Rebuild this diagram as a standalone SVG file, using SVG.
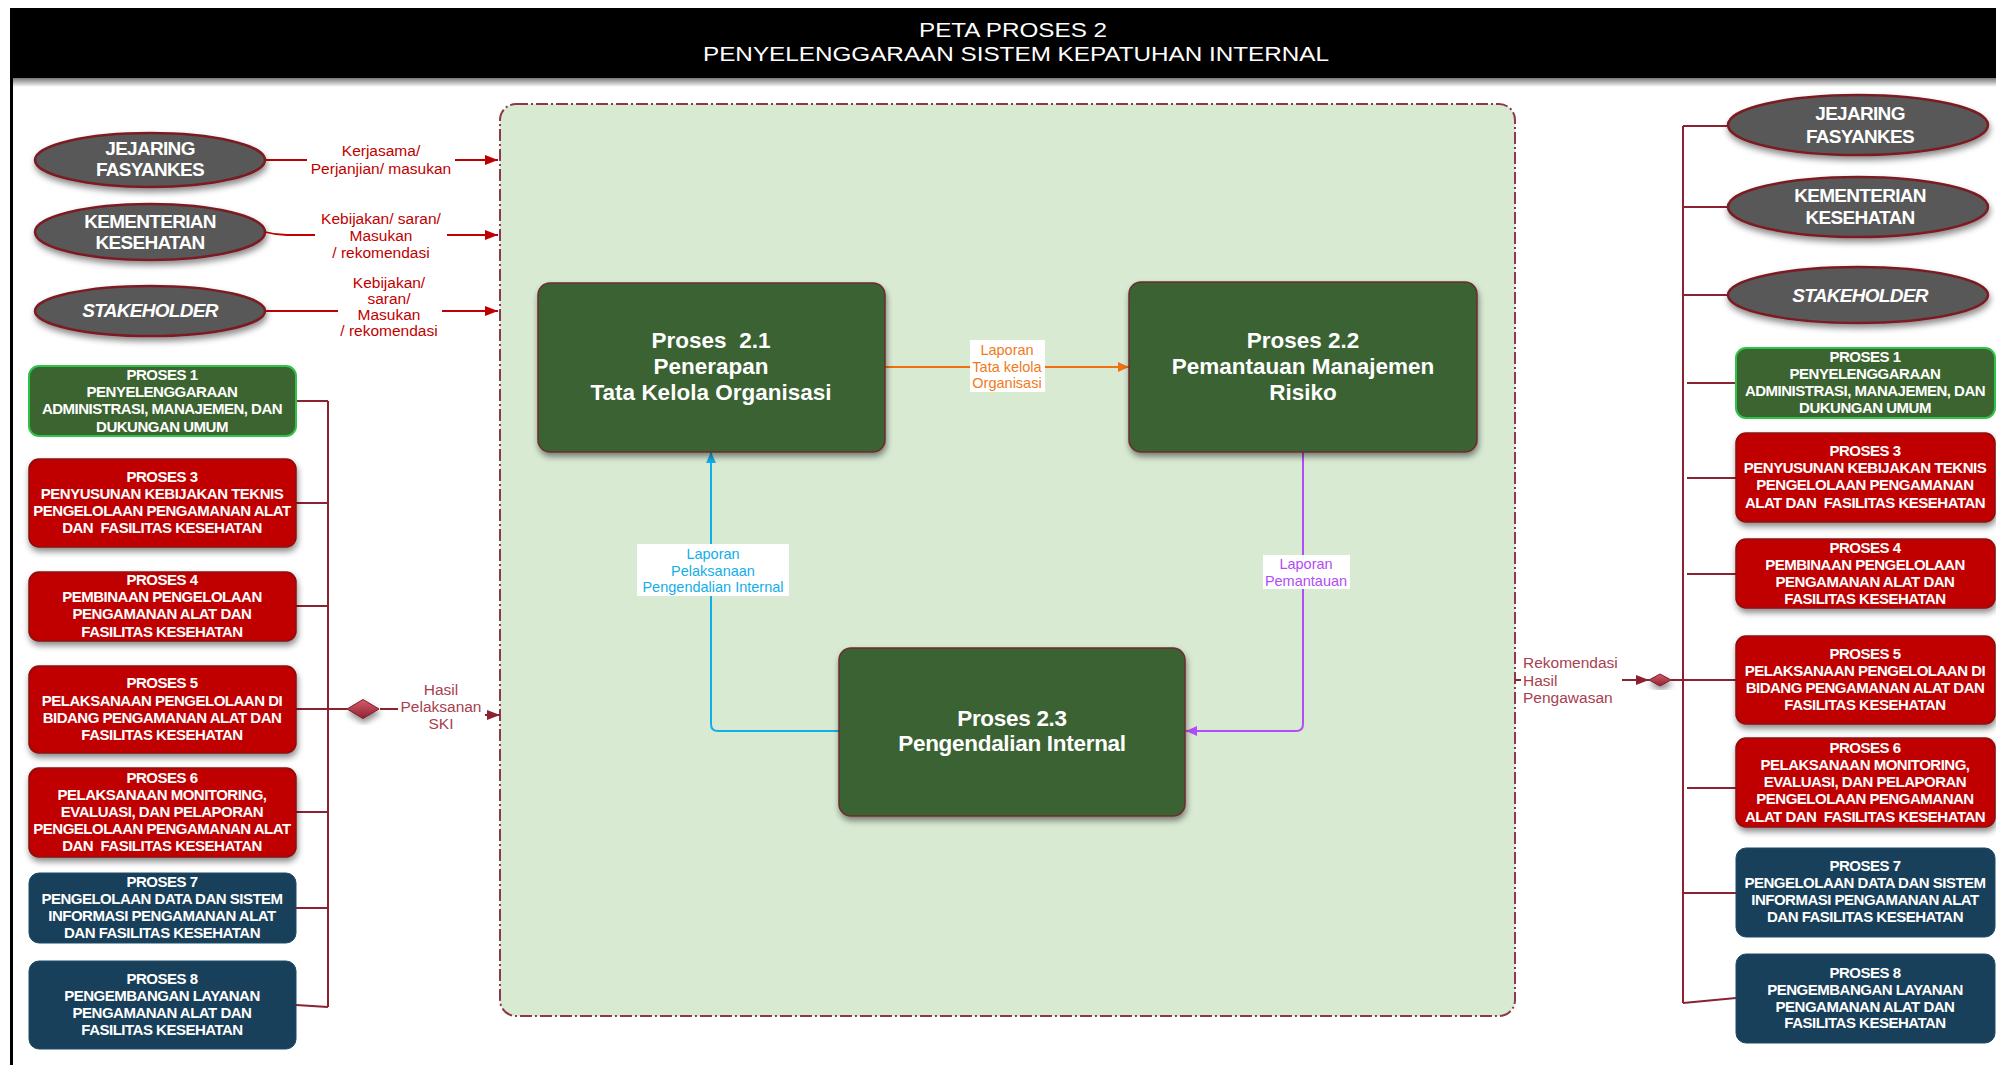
<svg xmlns="http://www.w3.org/2000/svg" width="1996" height="1065" viewBox="0 0 1996 1065">
<defs>
<style>
.title{font-family:"Liberation Sans",Arial,sans-serif;font-size:21px;fill:#fff;text-anchor:middle}
.ell{fill:#595959;stroke:#7b1e24;stroke-width:2.5}
.et{font-family:"Liberation Sans",Arial,sans-serif;font-weight:bold;font-size:19px;fill:#fff;text-anchor:middle;letter-spacing:-0.7px}
.bt{font-family:"Liberation Sans",Arial,sans-serif;font-weight:bold;font-size:15px;fill:#fff;text-anchor:middle;letter-spacing:-0.5px;white-space:pre}
.red{fill:#c00000;stroke:#8b0a0a;stroke-width:1.5}
.blue{fill:#18405b;stroke:#1d4a66;stroke-width:1}
.grn{fill:#3b6430;stroke:#2ec44a;stroke-width:2}
.core{fill:#3b6230;stroke:#6b2d2d;stroke-width:1.5}
.ct{font-family:"Liberation Sans",Arial,sans-serif;font-weight:bold;font-size:22.5px;fill:#fff;text-anchor:middle}
.lab{font-family:"Liberation Sans",Arial,sans-serif;font-size:15.5px;fill:#c00000;text-anchor:middle}
.lab2{font-family:"Liberation Sans",Arial,sans-serif;font-size:15.5px;fill:#a8404f}
.small{font-family:"Liberation Sans",Arial,sans-serif;font-size:14.5px;text-anchor:middle}
.bus{fill:none;stroke:#8b2232;stroke-width:2}
.rl{fill:none;stroke:#c00000;stroke-width:1.8}
</style>
<filter id="sh" x="-10%" y="-10%" width="130%" height="140%">
<feDropShadow dx="1" dy="4" stdDeviation="3" flood-color="#000" flood-opacity="0.45"/>
</filter>
<linearGradient id="hs" x1="0" y1="0" x2="0" y2="1">
<stop offset="0" stop-color="#777"/>
<stop offset="1" stop-color="#fff"/>
</linearGradient>
<linearGradient id="dg" x1="0" y1="0" x2="0" y2="1">
<stop offset="0" stop-color="#d85a6a"/>
<stop offset="1" stop-color="#8e2233"/>
</linearGradient>
<marker id="aR" markerUnits="userSpaceOnUse" markerWidth="14" markerHeight="10" refX="13" refY="5" orient="auto">
<path d="M0,0 L13,5 L0,10 Z" fill="#c00000"/>
</marker>
<marker id="aD" markerUnits="userSpaceOnUse" markerWidth="14" markerHeight="10" refX="13" refY="5" orient="auto">
<path d="M0,0 L13,5 L0,10 Z" fill="#8b2232"/>
</marker>
<marker id="aO" markerUnits="userSpaceOnUse" markerWidth="12" markerHeight="10" refX="11" refY="5" orient="auto">
<path d="M0,0 L11,5 L0,10 Z" fill="#f07010"/>
</marker>
<marker id="aB" markerUnits="userSpaceOnUse" markerWidth="12" markerHeight="10" refX="11" refY="5" orient="auto">
<path d="M0,0 L11,5 L0,10 Z" fill="#12aee8"/>
</marker>
<marker id="aP" markerUnits="userSpaceOnUse" markerWidth="12" markerHeight="10" refX="11" refY="5" orient="auto">
<path d="M0,0 L11,5 L0,10 Z" fill="#b24cf5"/>
</marker>
</defs>
<rect width="1996" height="1065" fill="#fff"/>

<g id="header">
<rect x="10" y="78" width="1986" height="9" fill="url(#hs)"/>
<rect x="10" y="8" width="1986" height="70" fill="#000"/>
<rect x="10" y="78" width="3" height="987" fill="#000"/>
<text class="title" x="1013" y="37" textLength="188" lengthAdjust="spacingAndGlyphs">PETA PROSES 2</text>
<text class="title" x="1016" y="61" textLength="626" lengthAdjust="spacingAndGlyphs">PENYELENGGARAAN SISTEM KEPATUHAN INTERNAL</text>
</g>

<g id="container">
<rect x="500" y="104" width="1015" height="912" rx="16" fill="#d9ead3" stroke="#8b3a48" stroke-width="2" stroke-dasharray="12 3 2 3"/>
</g>

<g id="connectors">
<path class="rl" d="M265,160 H307"/>
<path class="rl" d="M455,160 H498" marker-end="url(#aR)"/>
<path class="rl" d="M265,232 Q276,235 287,235 H315"/>
<path class="rl" d="M447,235 H498" marker-end="url(#aR)"/>
<path class="rl" d="M265,311 H338"/>
<path class="rl" d="M442,311 H498" marker-end="url(#aR)"/>
<path class="bus" d="M328,401 V1007"/>
<path class="bus" d="M296,401 H328 M296,503 H328 M296,606 H328 M296,709 H347 M296,812 H328 M296,908 H328 M296,1005 L328,1007"/>
<path class="bus" d="M380,709 H398"/>
<path class="bus" d="M485,715 H500" marker-end="url(#aD)"/>
<path class="bus" d="M1683,126 V1003"/>
<path class="bus" d="M1683,126 H1730 M1683,207 H1730 M1683,295 H1730 M1687,383 H1736 M1687,478 H1736 M1687,574 H1736 M1671,680 H1736 M1687,788 H1736 M1683,893 H1736 M1683,1003 L1736,998"/>
<path class="bus" d="M1515,680 H1521"/>
<path class="bus" d="M1622,680 H1649" marker-end="url(#aD)"/>
<path d="M885,367 H1129" fill="none" stroke="#f07010" stroke-width="2" marker-end="url(#aO)"/>
<path d="M839,731 H718 Q711,731 711,724 V452" fill="none" stroke="#12aee8" stroke-width="2" marker-end="url(#aB)"/>
<path d="M1303,452 V724 Q1303,731 1296,731 H1186" fill="none" stroke="#b24cf5" stroke-width="2" marker-end="url(#aP)"/>
</g>

<g id="diamond-left"><path d="M347,709 L363,699.5 L379,709 L363,718.5 Z" fill="url(#dg)" stroke="#7a1c2c" stroke-width="1" filter="url(#sh)"/></g>
<g id="diamond-right"><path d="M1649,680 L1660,674 L1671,680 L1660,686 Z" fill="url(#dg)" stroke="#7a1c2c" stroke-width="1" filter="url(#sh)"/></g>

<g id="labels">
<text class="lab"><tspan x="381" y="156">Kerjasama/</tspan><tspan x="381" y="174">Perjanjian/ masukan</tspan></text>
<text class="lab"><tspan x="381" y="224">Kebijakan/ saran/</tspan><tspan x="381" y="241">Masukan</tspan><tspan x="381" y="258">/ rekomendasi</tspan></text>
<text class="lab"><tspan x="389" y="288">Kebijakan/</tspan><tspan x="389" y="304">saran/</tspan><tspan x="389" y="320">Masukan</tspan><tspan x="389" y="336">/ rekomendasi</tspan></text>
<text class="lab2" text-anchor="middle"><tspan x="441" y="695">Hasil</tspan><tspan x="441" y="712">Pelaksanan</tspan><tspan x="441" y="729">SKI</tspan></text>
<text class="lab2"><tspan x="1523" y="668">Rekomendasi</tspan><tspan x="1523" y="686">Hasil</tspan><tspan x="1523" y="703">Pengawasan</tspan></text>
<rect x="970" y="340" width="75" height="52" fill="#fff"/>
<text class="small" fill="#f07a20"><tspan x="1007" y="355">Laporan</tspan><tspan x="1007" y="372">Tata kelola</tspan><tspan x="1007" y="388">Organisasi</tspan></text>
<rect x="637" y="544" width="152" height="52" fill="#fff"/>
<text class="small" fill="#12aee8"><tspan x="713" y="559">Laporan</tspan><tspan x="713" y="576">Pelaksanaan</tspan><tspan x="713" y="592">Pengendalian Internal</tspan></text>
<rect x="1263" y="555" width="87" height="34" fill="#fff"/>
<text class="small" fill="#b24cf5"><tspan x="1306" y="569">Laporan</tspan><tspan x="1306" y="586">Pemantauan</tspan></text>
</g>

<g id="ellipse-left-jejaring"><ellipse class="ell" cx="150" cy="160" rx="115" ry="27" filter="url(#sh)"/><text class="et"><tspan x="150" y="155">JEJARING</tspan><tspan x="150" y="176">FASYANKES</tspan></text></g>
<g id="ellipse-left-kemenkes"><ellipse class="ell" cx="150" cy="232" rx="115" ry="28" filter="url(#sh)"/><text class="et"><tspan x="150" y="228">KEMENTERIAN</tspan><tspan x="150" y="249">KESEHATAN</tspan></text></g>
<g id="ellipse-left-stakeholder"><ellipse class="ell" cx="150" cy="311" rx="115" ry="25" filter="url(#sh)"/><text class="et" font-style="italic" x="150" y="317">STAKEHOLDER</text></g>

<g id="ellipse-right-jejaring"><ellipse class="ell" cx="1858" cy="125" rx="130" ry="30" filter="url(#sh)"/><text class="et"><tspan x="1860" y="120">JEJARING</tspan><tspan x="1860" y="143">FASYANKES</tspan></text></g>
<g id="ellipse-right-kemenkes"><ellipse class="ell" cx="1858" cy="207" rx="130" ry="30" filter="url(#sh)"/><text class="et"><tspan x="1860" y="202">KEMENTERIAN</tspan><tspan x="1860" y="224">KESEHATAN</tspan></text></g>
<g id="ellipse-right-stakeholder"><ellipse class="ell" cx="1858" cy="295" rx="130" ry="28" filter="url(#sh)"/><text class="et" font-style="italic" x="1860" y="302">STAKEHOLDER</text></g>

<g id="left-p1"><rect class="grn" x="29" y="366" width="267" height="70" rx="10"/><text class="bt"><tspan x="162" y="380">PROSES 1</tspan><tspan x="162" y="397">PENYELENGGARAAN</tspan><tspan x="162" y="414">ADMINISTRASI, MANAJEMEN, DAN</tspan><tspan x="162" y="432">DUKUNGAN UMUM</tspan></text></g>
<g id="left-p3"><rect class="red" x="29" y="459" width="267" height="88" rx="10" filter="url(#sh)"/><text class="bt"><tspan x="162" y="482">PROSES 3</tspan><tspan x="162" y="499">PENYUSUNAN KEBIJAKAN TEKNIS</tspan><tspan x="162" y="516">PENGELOLAAN PENGAMANAN ALAT</tspan><tspan x="162" y="533">DAN  FASILITAS KESEHATAN</tspan></text></g>
<g id="left-p4"><rect class="red" x="29" y="572" width="267" height="69" rx="10" filter="url(#sh)"/><text class="bt"><tspan x="162" y="585">PROSES 4</tspan><tspan x="162" y="602">PEMBINAAN PENGELOLAAN</tspan><tspan x="162" y="619">PENGAMANAN ALAT DAN</tspan><tspan x="162" y="637">FASILITAS KESEHATAN</tspan></text></g>
<g id="left-p5"><rect class="red" x="29" y="666" width="267" height="87" rx="10" filter="url(#sh)"/><text class="bt"><tspan x="162" y="688">PROSES 5</tspan><tspan x="162" y="706">PELAKSANAAN PENGELOLAAN DI</tspan><tspan x="162" y="723">BIDANG PENGAMANAN ALAT DAN</tspan><tspan x="162" y="740">FASILITAS KESEHATAN</tspan></text></g>
<g id="left-p6"><rect class="red" x="29" y="768" width="267" height="89" rx="10" filter="url(#sh)"/><text class="bt"><tspan x="162" y="783">PROSES 6</tspan><tspan x="162" y="800">PELAKSANAAN MONITORING,</tspan><tspan x="162" y="817">EVALUASI, DAN PELAPORAN</tspan><tspan x="162" y="834">PENGELOLAAN PENGAMANAN ALAT</tspan><tspan x="162" y="851">DAN  FASILITAS KESEHATAN</tspan></text></g>
<g id="left-p7"><rect class="blue" x="29" y="873" width="267" height="70" rx="10"/><text class="bt"><tspan x="162" y="887">PROSES 7</tspan><tspan x="162" y="904">PENGELOLAAN DATA DAN SISTEM</tspan><tspan x="162" y="921">INFORMASI PENGAMANAN ALAT</tspan><tspan x="162" y="938">DAN FASILITAS KESEHATAN</tspan></text></g>
<g id="left-p8"><rect class="blue" x="29" y="961" width="267" height="88" rx="10"/><text class="bt"><tspan x="162" y="984">PROSES 8</tspan><tspan x="162" y="1001">PENGEMBANGAN LAYANAN</tspan><tspan x="162" y="1018">PENGAMANAN ALAT DAN</tspan><tspan x="162" y="1035">FASILITAS KESEHATAN</tspan></text></g>

<g id="right-p1"><rect class="grn" x="1736" y="348" width="259" height="70" rx="10"/><text class="bt"><tspan x="1865" y="362">PROSES 1</tspan><tspan x="1865" y="379">PENYELENGGARAAN</tspan><tspan x="1865" y="396">ADMINISTRASI, MANAJEMEN, DAN</tspan><tspan x="1865" y="413">DUKUNGAN UMUM</tspan></text></g>
<g id="right-p3"><rect class="red" x="1736" y="433" width="259" height="89" rx="10" filter="url(#sh)"/><text class="bt"><tspan x="1865" y="456">PROSES 3</tspan><tspan x="1865" y="473">PENYUSUNAN KEBIJAKAN TEKNIS</tspan><tspan x="1865" y="490">PENGELOLAAN PENGAMANAN</tspan><tspan x="1865" y="508">ALAT DAN  FASILITAS KESEHATAN</tspan></text></g>
<g id="right-p4"><rect class="red" x="1736" y="539" width="259" height="69" rx="10" filter="url(#sh)"/><text class="bt"><tspan x="1865" y="553">PROSES 4</tspan><tspan x="1865" y="570">PEMBINAAN PENGELOLAAN</tspan><tspan x="1865" y="587">PENGAMANAN ALAT DAN</tspan><tspan x="1865" y="604">FASILITAS KESEHATAN</tspan></text></g>
<g id="right-p5"><rect class="red" x="1736" y="636" width="259" height="88" rx="10" filter="url(#sh)"/><text class="bt"><tspan x="1865" y="659">PROSES 5</tspan><tspan x="1865" y="676">PELAKSANAAN PENGELOLAAN DI</tspan><tspan x="1865" y="693">BIDANG PENGAMANAN ALAT DAN</tspan><tspan x="1865" y="710">FASILITAS KESEHATAN</tspan></text></g>
<g id="right-p6"><rect class="red" x="1736" y="738" width="259" height="89" rx="10" filter="url(#sh)"/><text class="bt"><tspan x="1865" y="753">PROSES 6</tspan><tspan x="1865" y="770">PELAKSANAAN MONITORING,</tspan><tspan x="1865" y="787">EVALUASI, DAN PELAPORAN</tspan><tspan x="1865" y="804">PENGELOLAAN PENGAMANAN</tspan><tspan x="1865" y="822">ALAT DAN  FASILITAS KESEHATAN</tspan></text></g>
<g id="right-p7"><rect class="blue" x="1736" y="848" width="259" height="89" rx="10"/><text class="bt"><tspan x="1865" y="871">PROSES 7</tspan><tspan x="1865" y="888">PENGELOLAAN DATA DAN SISTEM</tspan><tspan x="1865" y="905">INFORMASI PENGAMANAN ALAT</tspan><tspan x="1865" y="922">DAN FASILITAS KESEHATAN</tspan></text></g>
<g id="right-p8"><rect class="blue" x="1736" y="954" width="259" height="89" rx="10"/><text class="bt"><tspan x="1865" y="978">PROSES 8</tspan><tspan x="1865" y="995">PENGEMBANGAN LAYANAN</tspan><tspan x="1865" y="1012">PENGAMANAN ALAT DAN</tspan><tspan x="1865" y="1028">FASILITAS KESEHATAN</tspan></text></g>

<g id="proses-2-1"><rect class="core" x="538" y="283" width="347" height="169" rx="12" filter="url(#sh)"/><text class="ct" style="white-space:pre"><tspan x="711" y="348">Proses  2.1</tspan><tspan x="711" y="374">Penerapan</tspan><tspan x="711" y="400">Tata Kelola Organisasi</tspan></text></g>
<g id="proses-2-2"><rect class="core" x="1129" y="282" width="348" height="170" rx="12" filter="url(#sh)"/><text class="ct"><tspan x="1303" y="348">Proses 2.2</tspan><tspan x="1303" y="374">Pemantauan Manajemen</tspan><tspan x="1303" y="400">Risiko</tspan></text></g>
<g id="proses-2-3"><rect class="core" x="839" y="648" width="346" height="168" rx="12" filter="url(#sh)"/><text class="ct" letter-spacing="-0.3"><tspan x="1012" y="726">Proses 2.3</tspan><tspan x="1012" y="751">Pengendalian Internal</tspan></text></g>
</svg>
